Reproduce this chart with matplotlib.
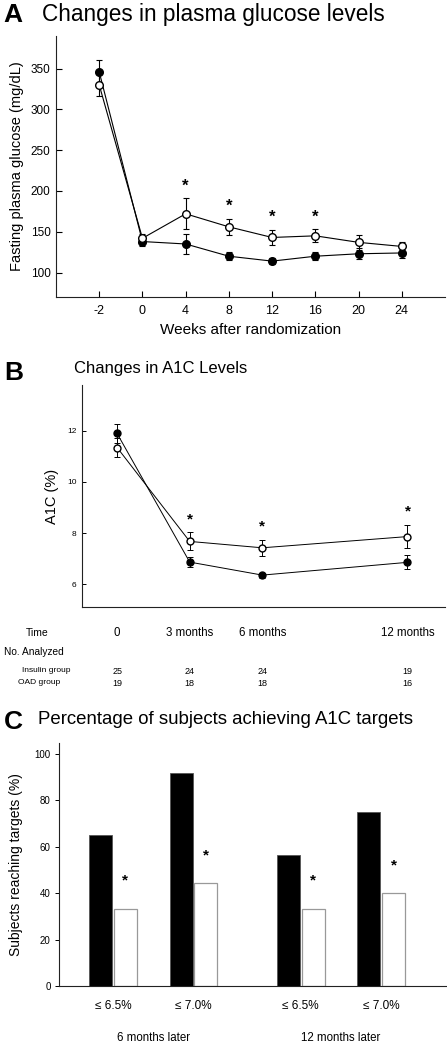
import matplotlib
matplotlib.use('Agg')
import matplotlib.pyplot as plt
import numpy as np

plt.rcParams['font.family'] = ['Liberation Sans', 'DejaVu Sans']

# ---- Panel A data: fasting plasma glucose (mg/dL)
weeks = ['-2', '0', '4', '8', '12', '16', '20', '24']
ins_glu = [346, 138, 135, 120, 114, 120, 123, 124]
ins_glu_err = [14, 5, 12, 5, 4, 5, 7, 6]
oad_glu = [330, 142, 172, 156, 143, 145, 137, 132]
oad_glu_err = [13, 5, 19, 10, 9, 8, 9, 5]
glu_sig = [False, False, True, True, True, True, False, False]

# ---- Panel B data: A1C (%)
months = [0, 3, 6, 12]
ins_a1c = [11.9, 6.86, 6.35, 6.85]
ins_a1c_err = [0.37, 0.2, 0.1, 0.28]
oad_a1c = [11.35, 7.67, 7.42, 7.86]
oad_a1c_err = [0.38, 0.35, 0.31, 0.44]
a1c_sig = [False, True, True, True]
time_labels = ['0', '3 months', '6 months', '12 months']
n_insulin = [25, 24, 24, 19]
n_oad = [19, 18, 18, 16]

# ---- Panel C data: % reaching targets
targets = ['≤ 6.5%', '≤ 7.0%', '≤ 6.5%', '≤ 7.0%']
periods = ['6 months later', '12 months later']
ins_pct = [65, 91.7, 56.3, 75]
oad_pct = [33.3, 44.4, 33.3, 40]

W, H = 447, 1051
fig = plt.figure(figsize=(W / 100, H / 100), dpi=100)


def px_axes(x0, y0, x1, y1):
    # y0 top, y1 bottom in pixels
    return fig.add_axes([x0 / W, 1 - y1 / H, (x1 - x0) / W, (y1 - y0) / H])


def clean(ax):
    for s in ['top', 'right']:
        ax.spines[s].set_visible(False)
    for s in ['left', 'bottom']:
        ax.spines[s].set_linewidth(0.8)
        ax.spines[s].set_color('#222222')


# ================= Panel A
axA = px_axes(56, 36, 445, 297)
clean(axA)
xa = np.arange(len(weeks))
axA.errorbar(xa, oad_glu, yerr=oad_glu_err, fmt='-o', color='black', mfc='white',
             mec='black', ms=5.5, lw=0.8, elinewidth=0.8, capsize=2.5, capthick=0.8, zorder=3)
axA.errorbar(xa, ins_glu, yerr=ins_glu_err, fmt='-o', color='black', mfc='black',
             mec='black', ms=5.5, lw=0.8, elinewidth=0.8, capsize=2.5, capthick=0.8, zorder=2)
for i, s in enumerate(glu_sig):
    if s:
        axA.text(xa[i], oad_glu[i] + oad_glu_err[i] + 6, '*', ha='center', va='bottom',
                 fontsize=12, fontweight='bold')
axA.set_xlim(-1, 8)
axA.set_ylim(70, 390)
axA.set_xticks(xa)
axA.set_xticklabels(weeks)
axA.set_yticks([100, 150, 200, 250, 300, 350])
axA.tick_params(axis='x', direction='in', length=4, width=0.8, labelsize=9, pad=6)
axA.tick_params(axis='y', direction='in', length=4, width=0.8, labelsize=8.5, pad=4)
axA.set_xlabel('Weeks after randomization', fontsize=11, labelpad=4)
axA.set_ylabel('Fasting plasma glucose (mg/dL)', fontsize=10.5, labelpad=5)
fig.text(3 / W, 1 - 15 / H, 'A', fontsize=19, fontweight='bold', va='center', ha='left')
fig.text(42 / W, 1 - 14 / H, 'Changes in plasma glucose levels', fontsize=16.3, va='center', ha='left')

# ================= Panel B
axB = px_axes(82, 385, 445, 607)
clean(axB)
axB.errorbar(months, oad_a1c, yerr=oad_a1c_err, fmt='-o', color='black', mfc='white',
             mec='black', ms=5, lw=0.7, elinewidth=0.7, capsize=2.5, capthick=0.7, zorder=3)
axB.errorbar(months, ins_a1c, yerr=ins_a1c_err, fmt='-o', color='black', mfc='black',
             mec='black', ms=5, lw=0.7, elinewidth=0.7, capsize=2.5, capthick=0.7, zorder=2)
for i, s in enumerate(a1c_sig):
    if s:
        axB.text(months[i], oad_a1c[i] + oad_a1c_err[i] + 0.25, '*', ha='center', va='bottom',
                 fontsize=11, fontweight='bold')
axB.set_xlim(-1.45, 13.55)
axB.set_ylim(5.1, 13.8)
axB.set_xticks([])
axB.set_yticks([6, 8, 10, 12])
axB.tick_params(axis='y', direction='in', length=3, width=0.7, labelsize=6, pad=4)
axB.set_ylabel('A1C (%)', fontsize=10.5, labelpad=6)
fig.text(4 / W, 1 - 373 / H, 'B', fontsize=19, fontweight='bold', va='center', ha='left')
fig.text(74 / W, 1 - 369 / H, 'Changes in A1C Levels', fontsize=12, va='center', ha='left')

# table under panel B, aligned with the data x-axis
trans = axB.get_xaxis_transform()
for i, m in enumerate(months):
    axB.text(m, 1 - (633 - 385) / (607 - 385), time_labels[i], transform=trans,
             ha='center', va='center', fontsize=8.3, clip_on=False)
    axB.text(m, 1 - (671 - 385) / (607 - 385), str(n_insulin[i]), transform=trans,
             ha='center', va='center', fontsize=6.5, clip_on=False)
    axB.text(m, 1 - (683 - 385) / (607 - 385), str(n_oad[i]), transform=trans,
             ha='center', va='center', fontsize=6.5, clip_on=False)
fig.text(26 / W, 1 - 633 / H, 'Time', fontsize=7.5, va='center', ha='left')
fig.text(4 / W, 1 - 652 / H, 'No. Analyzed', fontsize=7.3, va='center', ha='left')
fig.text(22 / W, 1 - 671 / H, 'Insulin group', fontsize=6, va='center', ha='left')
fig.text(18 / W, 1 - 683 / H, 'OAD group', fontsize=6, va='center', ha='left')

# ================= Panel C
axC = px_axes(59, 743, 446, 986)
clean(axC)
pair_x = np.array([0, 1, 2.335, 3.335])
bw = 0.285
axC.bar(pair_x - bw / 2 - 0.01, ins_pct, bw, color='black', edgecolor='#555555', linewidth=0.6)
axC.bar(pair_x + bw / 2 + 0.01, oad_pct, bw, color='white', edgecolor='#999999', linewidth=0.9)
for i in range(len(oad_pct)):
    axC.text(pair_x[i] + bw / 2 + 0.01, oad_pct[i] + 9, '*', ha='center', va='bottom',
             fontsize=11, fontweight='bold')
axC.set_xlim(-0.67, 4.14)
axC.set_ylim(0, 104.7)
axC.set_yticks([0, 20, 40, 60, 80, 100])
axC.set_xticks(pair_x)
axC.set_xticklabels(targets)
axC.tick_params(axis='x', length=0, labelsize=8.5, pad=10)
axC.tick_params(axis='y', direction='out', length=3, width=0.7, labelsize=7, pad=3)
axC.set_ylabel('Subjects reaching targets (%)', fontsize=10, labelpad=8)
ctr = [(pair_x[0] + pair_x[1]) / 2, (pair_x[2] + pair_x[3]) / 2]
transC = axC.get_xaxis_transform()
for c, p in zip(ctr, periods):
    axC.text(c, -(1038 - 986) / (986 - 743), p, transform=transC, ha='center', va='center',
             fontsize=8.3, clip_on=False)
fig.text(4 / W, 1 - 722 / H, 'C', fontsize=19, fontweight='bold', va='center', ha='left')
fig.text(38 / W, 1 - 720 / H, 'Percentage of subjects achieving A1C targets', fontsize=13.4,
         va='center', ha='left')

fig.savefig('out.png', dpi=100, facecolor='white')
